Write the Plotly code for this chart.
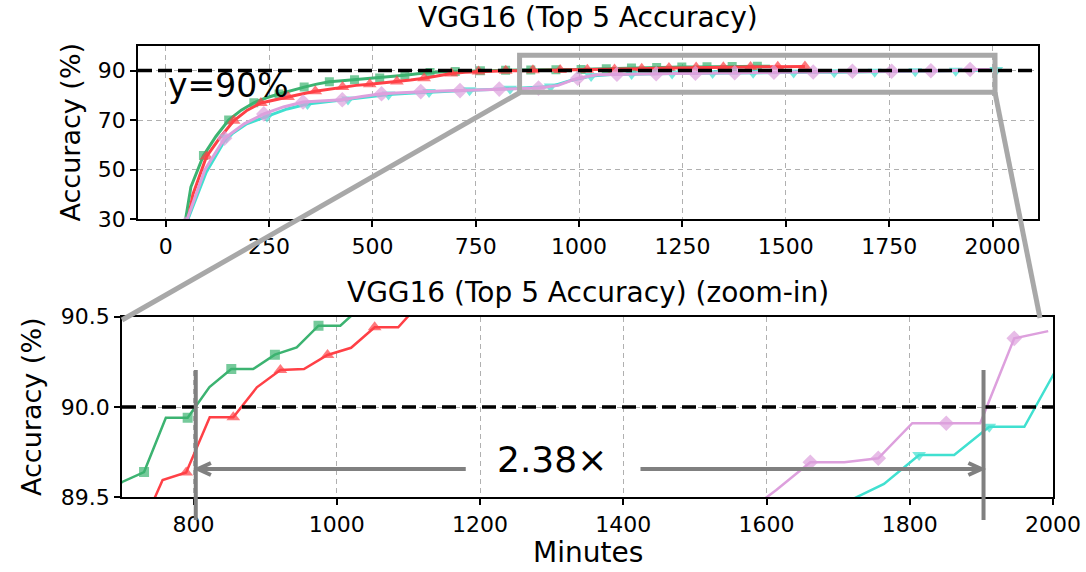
import plotly.graph_objects as go

W, H = 1086, 572

# ---------------- data (minutes, top-5 accuracy %) ----------------
green_x = [30.45, 60.9, 91.35, 121.8, 152.25, 182.7, 213.15, 243.6, 274.05, 304.5,
           334.95, 365.4, 395.85, 426.3, 456.75, 487.2, 517.65, 548.1, 578.55, 609,
           639.45, 669.9, 700.35, 730.8, 761.25, 791.7, 822.15, 852.6, 883.05, 913.5,
           943.95, 974.4, 1004.85, 1035.3, 1065.75, 1096.2, 1126.65, 1157.1, 1187.55, 1218,
           1248.45, 1278.9, 1309.35, 1339.8, 1370.25, 1400.7, 1431.15, 1461.6]
green_y = [12, 43, 55.7, 63.5, 70, 74, 77, 79, 80.5, 82,
           83.3, 84.5, 85.5, 85.9, 86.3, 86.6, 87.0, 87.5, 88.1, 88.7,
           89.2, 89.5, 89.585, 89.64, 89.94, 89.94, 90.11, 90.21, 90.21, 90.29,
           90.33, 90.45, 90.45, 90.56, 90.7, 90.85, 91.0, 91.1, 91.2, 91.3,
           91.4, 91.4, 91.5, 91.5, 91.6, 91.6, 91.7, 91.7]

red_x = [32.9, 65.8, 98.7, 131.6, 164.5, 197.4, 230.3, 263.2, 296.1, 329,
         361.9, 394.8, 427.7, 460.6, 493.5, 526.4, 559.3, 592.2, 625.1, 658,
         690.9, 723.8, 756.7, 789.6, 822.5, 855.4, 888.3, 921.2, 954.1, 987,
         1019.9, 1052.8, 1085.7, 1118.6, 1151.5, 1184.4, 1217.3, 1250.2, 1283.1, 1316,
         1348.9, 1381.8, 1414.7, 1447.6, 1480.5, 1513.4, 1546.3]
red_y = [12, 40, 55.3, 63, 69.7, 74, 76.9, 78.2, 79.3, 80.5,
         81.6, 82.5, 83.3, 84.0, 84.5, 85.0, 85.6, 86.2, 86.9, 88.0,
         88.8, 89.3, 89.596, 89.638, 89.943, 89.943, 90.109, 90.205, 90.21, 90.288,
         90.328, 90.441, 90.441, 90.587, 90.75, 90.9, 91.0, 91.1, 91.2, 91.3,
         91.35, 91.4, 91.45, 91.5, 91.5, 91.55, 91.6]

turq_x = [49, 98, 147, 196, 245, 294, 343, 392, 441, 490,
          539, 588, 637, 686, 735, 784, 833, 882, 931, 980,
          1029, 1078, 1127, 1176, 1225, 1274, 1323, 1372, 1421, 1470,
          1519, 1568, 1617, 1666, 1715, 1764, 1813, 1862, 1911, 1960, 2009]
turq_y = [28, 49, 63, 68.5, 71.5, 74.5, 76.5, 77.5, 78.3, 79.5,
          80.3, 80.8, 81.3, 81.6, 82.0, 82.3, 82.6, 83.0, 83.5, 86.0,
          87.8, 88.4, 88.6, 88.7, 88.8, 88.9, 89.0, 89.05, 89.1, 89.15,
          89.2, 89.25, 89.3, 89.4, 89.48, 89.574, 89.734, 89.734, 89.89, 89.89, 90.24]

plum_x = [47.46, 94.92, 142.38, 189.84, 237.3, 284.76, 332.22, 379.68, 427.14, 474.6,
          522.06, 569.52, 616.98, 664.44, 711.9, 759.36, 806.82, 854.28, 901.74, 949.2,
          996.66, 1044.12, 1091.58, 1139.04, 1186.5, 1233.96, 1281.42, 1328.88, 1376.34, 1423.8,
          1471.26, 1518.72, 1566.18, 1613.64, 1661.1, 1708.56, 1756.02, 1803.48, 1850.94, 1898.4,
          1945.86, 1993.32]
plum_y = [28, 50, 62.7, 68.5, 72.5, 75.3, 77.3, 77.8, 78.2, 79.5,
          80.6, 81.0, 81.5, 81.7, 81.9, 82.2, 82.5, 82.7, 82.9, 84.0,
          86.9, 88.3, 88.5, 88.6, 88.7, 88.8, 88.9, 89.0, 89.1, 89.2,
          89.3, 89.4, 89.4, 89.54, 89.694, 89.694, 89.716, 89.91, 89.91, 89.91,
          90.38, 90.42]

THRESHOLD = 90
TOP_XTICKS = [0, 250, 500, 750, 1000, 1250, 1500, 1750, 2000]
TOP_YTICKS = [30, 50, 70, 90]
BOT_XTICKS = [800, 1000, 1200, 1400, 1600, 1800, 2000]
BOT_YTICKS = [89.5, 90.0, 90.5]
FAST_REACH = 803      # minutes when the fastest run crosses 90 %
SLOW_REACH = 1903     # minutes when the slowest run crosses 90 %
SPEEDUP_TEXT = "2.38×"

# ---------------- styling / layout geometry ----------------
FONT = "DejaVu Sans"
GREEN, RED, TURQ, PLUM = "#3CB371", "#FF4046", "#40E0D0", "#DDA0DD"
GRAY_BOX = "#A8A8A8"
GRAY_ARROW = "#808080"

TOP_DX = [138 / W, 1038 / W]
TOP_DY = [1 - 219.3 / H, 1 - 45.7 / H]
BOT_DX = [122 / W, 1053 / W]
BOT_DY = [1 - 497.3 / H, 1 - 316.7 / H]
TOP_XR = [-67, 2110]
TOP_YR = [30, 100]
BOT_XR = [700, 2000]
BOT_YR = [89.5, 90.5]


def px(xp):
    return xp / W


def py(yp):
    return 1 - yp / H


def bot_x(v):
    return BOT_DX[0] + (v - BOT_XR[0]) / (BOT_XR[1] - BOT_XR[0]) * (BOT_DX[1] - BOT_DX[0])


# (x, y, colour, symbol, top marker size, bottom marker size, bottom marker parity)
series = [
    (green_x, green_y, GREEN, "square", 9, 10, 1),
    (red_x, red_y, RED, "triangle-up", 12, 12, 1),
    (turq_x, turq_y, TURQ, "triangle-down", 12, 12, 0),
    (plum_x, plum_y, PLUM, "diamond", 12, 12, 0),
]

fig = go.Figure()

for xs, ys, col, sym, ts, bs, bot_off in series:
    top_sizes = [ts if i % 2 == 0 else 0 for i in range(len(xs))]
    fig.add_trace(go.Scatter(
        x=xs, y=ys, mode="lines+markers", xaxis="x", yaxis="y",
        line=dict(color=col, width=3),
        marker=dict(symbol=sym, size=top_sizes, color=col, line=dict(width=0)),
        showlegend=False, hoverinfo="skip"))
for xs, ys, col, sym, ts, bs, bot_off in series:
    bot_sizes = [bs if i % 2 == bot_off else 0 for i in range(len(xs))]
    fig.add_trace(go.Scatter(
        x=xs, y=ys, mode="lines+markers", xaxis="x2", yaxis="y2",
        line=dict(color=col, width=2.5),
        marker=dict(symbol=sym, size=bot_sizes, color=col, line=dict(width=0)),
        showlegend=False, hoverinfo="skip"))

axis_common = dict(
    showline=True, linecolor="black", linewidth=1.8, mirror=True,
    ticks="outside", ticklen=6, tickwidth=1.5, tickcolor="black",
    showgrid=True, gridcolor="#B0B0B0", gridwidth=1.2, griddash="5px,4px",
    zeroline=False, automargin=False,
    tickfont=dict(family=FONT, size=22, color="black"),
)

fig.update_layout(
    width=W, height=H, margin=dict(l=0, r=0, t=0, b=0, autoexpand=False),
    paper_bgcolor="white", plot_bgcolor="white",
    font=dict(family=FONT, color="black"),
    xaxis=dict(domain=TOP_DX, range=TOP_XR, tickvals=TOP_XTICKS, anchor="y", **axis_common),
    yaxis=dict(domain=TOP_DY, range=TOP_YR, tickvals=TOP_YTICKS, anchor="x", **axis_common),
    xaxis2=dict(domain=BOT_DX, range=BOT_XR, tickvals=BOT_XTICKS, anchor="y2", **axis_common),
    yaxis2=dict(domain=BOT_DY, range=BOT_YR, tickvals=BOT_YTICKS, tickformat=".1f",
                anchor="x2", **axis_common),
)

shapes = []
# y = 90 % threshold lines
for xr, yr in (("x domain", "y"), ("x2 domain", "y2")):
    shapes.append(dict(type="line", xref=xr, yref=yr, x0=0, x1=1, y0=THRESHOLD, y1=THRESHOLD,
                       line=dict(color="black", width=3.5, dash="14px,6px"), layer="above"))
# zoom box on the overview
shapes.append(dict(type="rect", xref="x", yref="y", x0=856, x1=2006, y0=81.2, y1=96.1,
                   line=dict(color=GRAY_BOX, width=5), fillcolor="rgba(0,0,0,0)", layer="above"))
# connector lines from zoom box to the zoomed panel
shapes.append(dict(type="line", xref="paper", yref="paper",
                   x0=px(520), y0=py(92.5), x1=px(122), y1=py(320),
                   line=dict(color=GRAY_BOX, width=5), layer="above"))
shapes.append(dict(type="line", xref="paper", yref="paper",
                   x0=px(995), y0=py(92.5), x1=px(1040), y1=py(318),
                   line=dict(color=GRAY_BOX, width=5), layer="above"))
# vertical markers where the runs reach the threshold
for v in (FAST_REACH, SLOW_REACH):
    shapes.append(dict(type="line", xref="paper", yref="paper",
                       x0=bot_x(v), x1=bot_x(v), y0=py(520), y1=py(370),
                       line=dict(color=GRAY_ARROW, width=4), layer="above"))
# arrows
ay = py(469)
hx, hy = 13 / W, 6 / H
lt = bot_x(FAST_REACH + 3)
ls = bot_x(1180)
rt = bot_x(SLOW_REACH - 3)
rs = bot_x(1424)
shapes.append(dict(type="path", xref="paper", yref="paper",
                   path=f"M {ls},{ay} L {lt},{ay} M {lt + hx},{ay + hy} L {lt},{ay} L {lt + hx},{ay - hy}",
                   line=dict(color=GRAY_ARROW, width=4), layer="above"))
shapes.append(dict(type="path", xref="paper", yref="paper",
                   path=f"M {rs},{ay} L {rt},{ay} M {rt - hx},{ay + hy} L {rt},{ay} L {rt - hx},{ay - hy}",
                   line=dict(color=GRAY_ARROW, width=4), layer="above"))
fig.update_layout(shapes=shapes)

ann = []
ann.append(dict(text="VGG16 (Top 5 Accuracy)", xref="paper", yref="paper",
                x=(TOP_DX[0] + TOP_DX[1]) / 2, y=py(18), showarrow=False,
                font=dict(family=FONT, size=28), xanchor="center", yanchor="middle"))
ann.append(dict(text="VGG16 (Top 5 Accuracy) (zoom-in)", xref="paper", yref="paper",
                x=(BOT_DX[0] + BOT_DX[1]) / 2, y=py(293), showarrow=False,
                font=dict(family=FONT, size=28), xanchor="center", yanchor="middle"))
ann.append(dict(text="Accuracy (%)", xref="paper", yref="paper", x=px(70),
                y=(TOP_DY[0] + TOP_DY[1]) / 2, textangle=-90, showarrow=False,
                font=dict(family=FONT, size=27), xanchor="center", yanchor="middle"))
ann.append(dict(text="Accuracy (%)", xref="paper", yref="paper", x=px(32),
                y=(BOT_DY[0] + BOT_DY[1]) / 2, textangle=-90, showarrow=False,
                font=dict(family=FONT, size=27), xanchor="center", yanchor="middle"))
ann.append(dict(text="Minutes", xref="paper", yref="paper", x=(BOT_DX[0] + BOT_DX[1]) / 2,
                y=py(570), showarrow=False, font=dict(family=FONT, size=28),
                xanchor="center", yanchor="bottom", borderpad=0))
ann.append(dict(text=f"y={THRESHOLD}%", xref="x", yref="y", x=0, y=83.8, showarrow=False,
                font=dict(family=FONT, size=33), xanchor="left", yanchor="middle"))
ann.append(dict(text=SPEEDUP_TEXT, xref="x2", yref="y2", x=1300, y=89.71, showarrow=False,
                font=dict(family=FONT, size=36), xanchor="center", yanchor="middle"))
fig.update_layout(annotations=ann)

fig.write_html("out.html", config={"displayModeBar": False},
               post_script="document.body.style.margin='0';")
